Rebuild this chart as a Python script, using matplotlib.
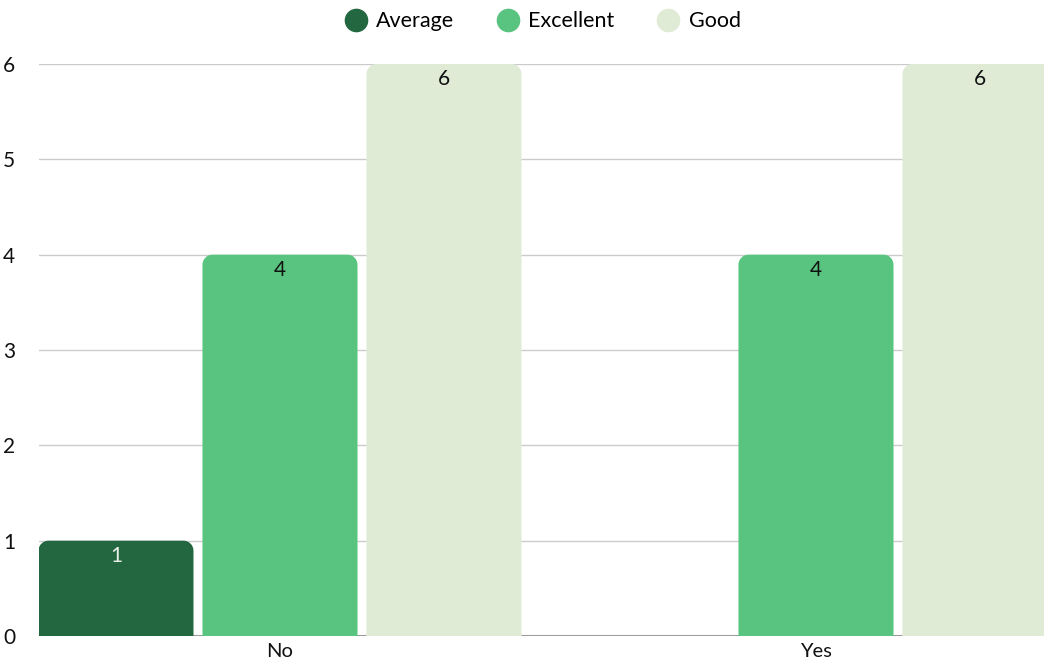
import matplotlib
matplotlib.use("Agg")
import matplotlib.pyplot as plt
from matplotlib.path import Path
from matplotlib.patches import PathPatch
from matplotlib.lines import Line2D

categories = ["No", "Yes"]
series_names = ["Average", "Excellent", "Good"]
average = [1, 0]
excellent = [4, 4]
good = [6, 6]
yticks = [0, 1, 2, 3, 4, 5, 6]
colors = ["#236741", "#58c47f", "#e0ebd6"]
label_colors = ["#e8efe8", "#111111", "#111111"]

plt.rcParams["font.family"] = ["Lato", "DejaVu Sans"]

W, H = 1044, 663
fig = plt.figure(figsize=(W / 100, H / 100), dpi=100)
ax = fig.add_axes([39 / W, (H - 636) / H, (1044 - 39) / W, (636 - 64) / H])

ax.set_ylim(0, 6)
ax.set_xlim(-0.4496, 1.4254)

bar_w = 155 / 536
step = 164 / 536
rx = 10 / 536
ry = 10 / 95.33

def rounded_bar(x0, w, h, color):
    if h <= 0:
        return
    x1 = x0 + w
    r_x = min(rx, w / 2)
    r_y = min(ry, h)
    k = 0.5523
    verts = [
        (x0, 0), (x0, h - r_y),
        (x0, h - r_y + k * r_y), (x0 + r_x - k * r_x, h), (x0 + r_x, h),
        (x1 - r_x, h),
        (x1 - r_x + k * r_x, h), (x1, h - r_y + k * r_y), (x1, h - r_y),
        (x1, 0), (x0, 0),
    ]
    codes = [Path.MOVETO, Path.LINETO,
             Path.CURVE4, Path.CURVE4, Path.CURVE4,
             Path.LINETO,
             Path.CURVE4, Path.CURVE4, Path.CURVE4,
             Path.LINETO, Path.CLOSEPOLY]
    p = PathPatch(Path(verts, codes), facecolor=color, edgecolor="none", zorder=3)
    ax.add_patch(p)

all_series = [average, excellent, good]
for si, vals in enumerate(all_series):
    for ci, v in enumerate(vals):
        center = ci + (si - 1) * step
        x0 = center - bar_w / 2
        rounded_bar(x0, bar_w, v, colors[si])
        if v > 0:
            ax.text(center, v - 0.16, str(v), ha="center", va="center",
                    fontsize=15, color=label_colors[si], zorder=4)

for y in yticks[1:]:
    ax.axhline(y, color="#cccccc", lw=1, zorder=1)
ax.axhline(0, color="#9e9e9e", lw=1.5, zorder=2)

for s in ax.spines.values():
    s.set_visible(False)
ax.set_yticks(yticks)
ax.set_yticklabels([str(t) for t in yticks], fontsize=15, color="#111111")
ax.set_xticks(range(len(categories)))
ax.set_xticklabels(categories, fontsize=14.5, color="#111111")
ax.tick_params(axis="y", length=0, pad=17)
ax.tick_params(axis="x", length=0, pad=5)

handles = [Line2D([], [], marker="o", linestyle="none", markersize=16,
                  markerfacecolor=c, markeredgecolor=c) for c in colors]
fig.legend(handles, series_names, loc="upper center", bbox_to_anchor=(0.52, 1.012),
           ncol=3, frameon=False, fontsize=15.5, handletextpad=0.45,
           columnspacing=2.0, handlelength=1.0)

fig.savefig("out.png", dpi=100)
